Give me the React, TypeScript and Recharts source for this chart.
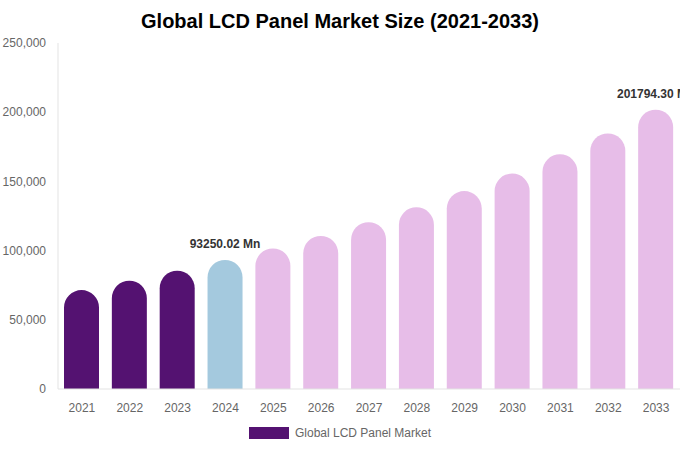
import React from 'react';
import { BarChart, Bar, XAxis, YAxis, Cell, LabelList } from 'recharts';

const years = ['2021', '2022', '2023', '2024', '2025', '2026', '2027', '2028', '2029', '2030', '2031', '2032', '2033'];
const marketValues = [71500, 78300, 85500, 93250.02, 101600, 110600, 120500, 131300, 143000, 155700, 169600, 184700, 201794.3];
const valueLabels = ['', '', '', '93250.02 Mn', '', '', '', '', '', '', '', '', '201794.30 Mn'];
const barKinds = ['past', 'past', 'past', 'base', 'forecast', 'forecast', 'forecast', 'forecast', 'forecast', 'forecast', 'forecast', 'forecast', 'forecast'];
const yTicks = [0, 50000, 100000, 150000, 200000, 250000];

const kindColors: Record<string, string> = {
  past: '#541271',
  base: '#a4c9de',
  forecast: '#e7bde8',
};

const data = years.map((year, i) => ({
  year,
  value: marketValues[i],
  label: valueLabels[i],
  kind: barKinds[i],
}));

const FONT = '"Liberation Sans", Arial, Helvetica, sans-serif';

const TopLabel = (props: any) => {
  const { x, y, width, value } = props;
  if (!value) return null;
  return (
    <text
      x={Number(x) + Number(width) / 2}
      y={Number(y) - 12}
      textAnchor="middle"
      fill="#333333"
      fontSize={12}
      fontWeight="bold"
    >
      {value}
    </text>
  );
};

export default function App() {
  return (
    <div
      style={{
        position: 'absolute',
        left: 0,
        top: 0,
        width: 680,
        height: 450,
        background: '#ffffff',
        fontFamily: FONT,
      }}
    >
      <div
        style={{
          position: 'absolute',
          left: 0,
          top: 8,
          width: 680,
          textAlign: 'center',
          fontSize: 20,
          fontWeight: 'bold',
          color: '#000',
          lineHeight: '26px',
        }}
      >
        Global LCD Panel Market Size (2021-2033)
      </div>
      <div style={{ position: 'absolute', left: 0, top: 0 }}>
        <BarChart
          width={680}
          height={420}
          data={data}
          margin={{ top: 43, right: 0, bottom: 1, left: 0 }}
        >
          <XAxis
            dataKey="year"
            tickLine={false}
            axisLine={{ stroke: '#e3e3e3' }}
            tick={{ fill: '#666666', fontSize: 12 }}
            tickMargin={8}
            height={30}
            interval={0}
          />
          <YAxis
            domain={[0, 250000]}
            ticks={yTicks}
            tickFormatter={(v: number) => v.toLocaleString('en-US')}
            tickLine={false}
            axisLine={{ stroke: '#e3e3e3' }}
            tick={{ fill: '#666666', fontSize: 12 }}
            tickMargin={6}
            width={58}
          />
          <Bar dataKey="value" barSize={35} radius={[17.5, 17.5, 0, 0]} isAnimationActive={false}>
            {data.map((d) => (
              <Cell key={d.year} fill={kindColors[d.kind]} />
            ))}
            <LabelList dataKey="label" content={TopLabel} />
          </Bar>
        </BarChart>
      </div>
      <div
        style={{
          position: 'absolute',
          left: 0,
          top: 426,
          width: 680,
          display: 'flex',
          justifyContent: 'center',
          alignItems: 'center',
          fontSize: 12,
          color: '#666666',
        }}
      >
        <span
          style={{
            display: 'inline-block',
            width: 40,
            height: 12,
            background: kindColors.past,
            marginRight: 6,
          }}
        />
        <span>Global LCD Panel Market</span>
      </div>
    </div>
  );
}
